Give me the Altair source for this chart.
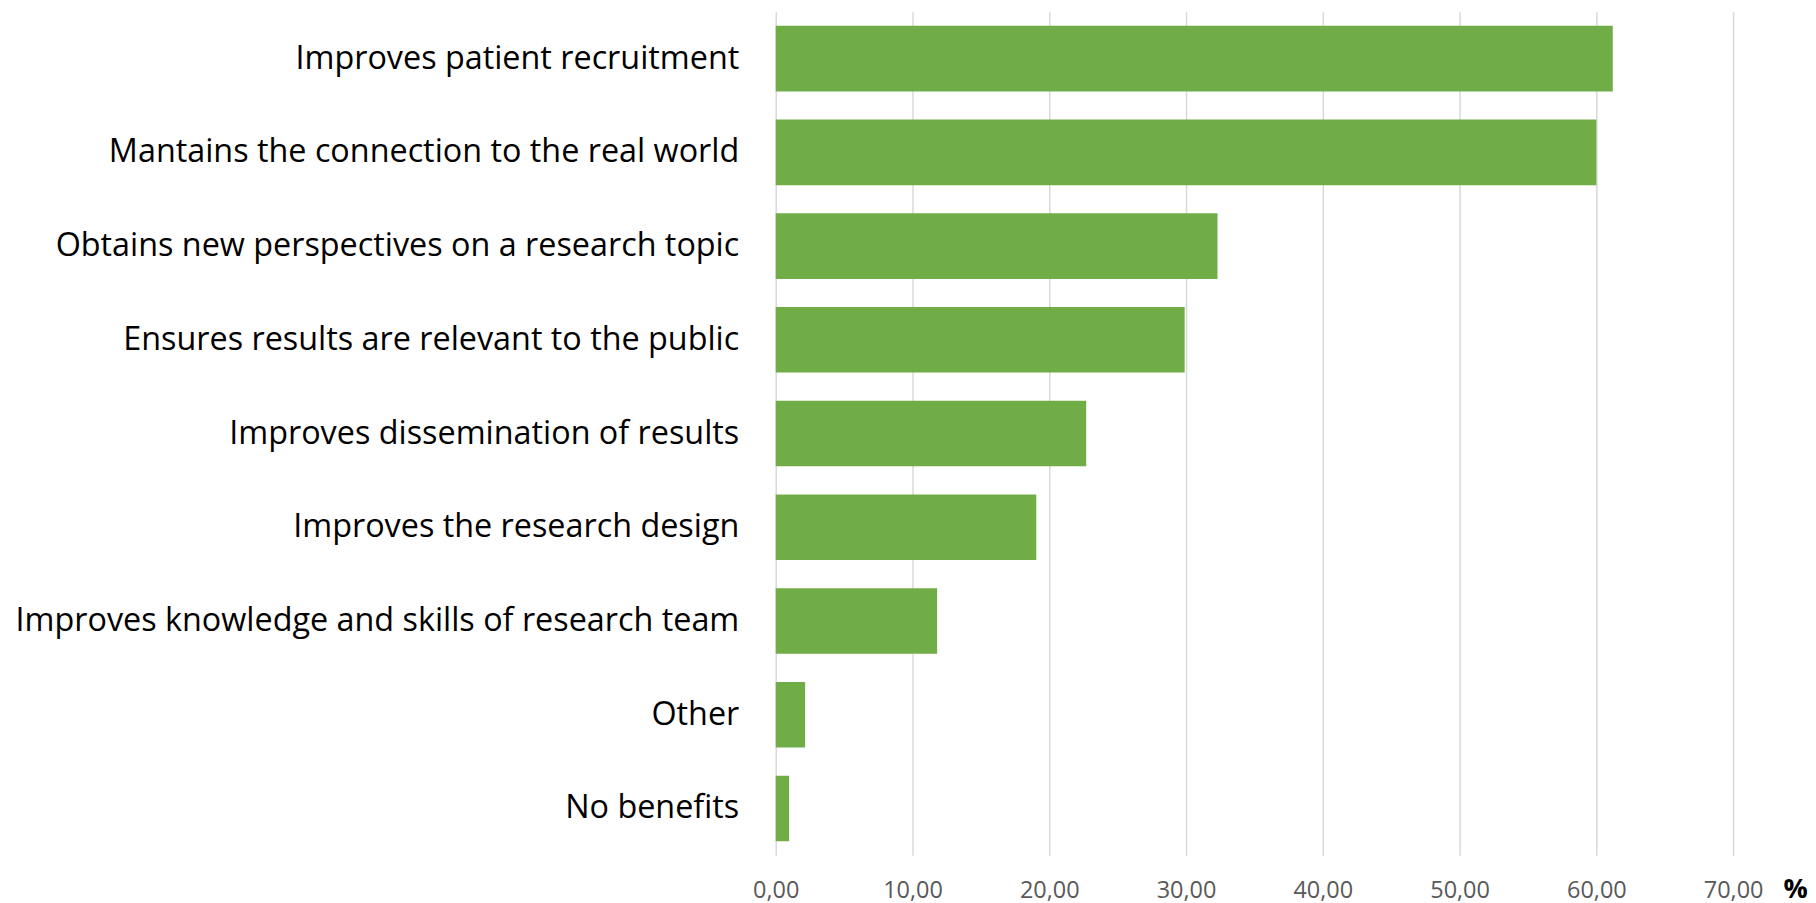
import altair as alt
import pandas as pd

categories = [
    "Improves patient recruitment",
    "Mantains the connection to the real world",
    "Obtains new perspectives on a research topic",
    "Ensures results are relevant to the public",
    "Improves dissemination of results",
    "Improves the research design",
    "Improves knowledge and skills of research team",
    "Other",
    "No benefits",
]
values = [61.2, 60.0, 32.3, 29.9, 22.7, 19.05, 11.8, 2.15, 0.98]
tick_values = [0, 10, 20, 30, 40, 50, 60, 70]

df = pd.DataFrame({"cat": categories, "val": values})

FONT = "Open Sans"

chart = alt.Chart(df).mark_bar(color="#70AD47").encode(
    x=alt.X(
        "val:Q",
        scale=alt.Scale(domain=[0, 70], nice=False),
        axis=alt.Axis(
            values=tick_values,
            labelExpr="replace(format(datum.value, '.2f'), '.', ',')",
            labelFlush=False,
            labelOverlap=False,
            grid=True,
            gridColor="#d9d9d9",
            gridWidth=1.5,
            domain=False,
            ticks=False,
            tickSize=0,
            labelFont=FONT,
            labelFontSize=23.5,
            labelColor="#595959",
            labelPadding=23,
            title="%",
            titleFont=FONT,
            titleFontSize=27,
            titleFontWeight="bold",
            titleColor="#000000",
            titleX=1021,
            titleY=34,
            titleAlign="center",
            titleBaseline="middle",
            titleAnchor="start",
        ),
    ),
    y=alt.Y(
        "cat:N",
        sort=categories,
        scale=alt.Scale(paddingInner=0.3, paddingOuter=0.15),
        axis=alt.Axis(
            title=None,
            domain=False,
            ticks=False,
            tickSize=0,
            labelFont=FONT,
            labelFontSize=32.4,
            labelColor="#000000",
            labelPadding=37,
            labelLimit=1000,
        ),
    ),
).properties(
    width=959,
    height=845,
    background="white",
    autosize=alt.AutoSizeParams(type="none"),
    padding={"left": 769, "top": 3, "right": 75, "bottom": 48},
).configure_view(stroke=None)

chart.save("out.html", embed_options={"renderer": "svg", "actions": False})
